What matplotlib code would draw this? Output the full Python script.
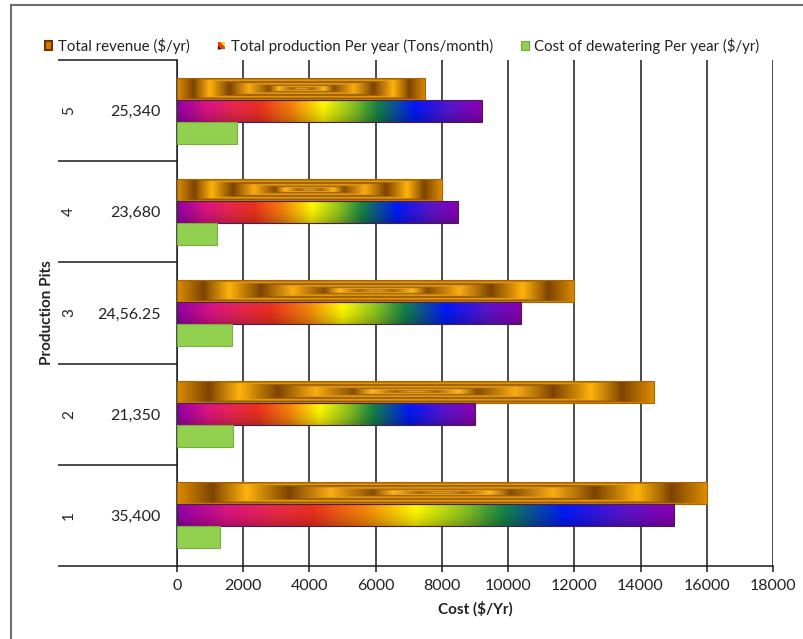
import numpy as np
import matplotlib
matplotlib.use("Agg")
import matplotlib.pyplot as plt
import matplotlib.transforms as mtransforms
from matplotlib.colors import LinearSegmentedColormap
from matplotlib.legend_handler import HandlerBase
from matplotlib.patches import Patch, Polygon, Rectangle
from matplotlib.lines import Line2D

plt.rcParams["font.family"] = ["Lato", "DejaVu Sans"]

# ---- data -------------------------------------------------------------
pits = ["1", "2", "3", "4", "5"]
pit_values = ["35,400", "21,350", "24,56.25", "23,680", "25,340"]
revenue = [16000, 14400, 12000, 8000, 7500]
production = [15000, 9000, 10400, 8500, 9200]
dewatering = [1300, 1700, 1650, 1200, 1800]
series_names = ["Total revenue ($/yr)",
                "Total production Per year (Tons/month)",
                "Cost of dewatering Per year ($/yr)"]
x_ticks = [0, 2000, 4000, 6000, 8000, 10000, 12000, 14000, 16000, 18000]


def rgb(*c):
    return tuple(v / 255 for v in c)


# ---- fills ------------------------------------------------------------
gold_cmap = LinearSegmentedColormap.from_list("gold", [
    (0.00, rgb(255, 195, 50)),
    (0.08, rgb(160, 95, 10)),
    (0.18, rgb(255, 182, 30)),
    (0.26, rgb(135, 78, 5)),
    (0.42, rgb(250, 172, 20)),
    (0.58, rgb(125, 68, 0)),
    (0.74, rgb(255, 178, 12)),
    (0.87, rgb(125, 68, 0)),
    (1.00, rgb(220, 140, 0)),
])
rainbow_cmap = LinearSegmentedColormap.from_list("rainbow_fill", [
    (0.00, rgb(150, 0, 170)),
    (0.10, rgb(220, 20, 130)),
    (0.19, rgb(235, 40, 75)),
    (0.27, rgb(236, 48, 30)),
    (0.38, rgb(246, 135, 10)),
    (0.48, rgb(255, 250, 0)),
    (0.57, rgb(150, 200, 30)),
    (0.66, rgb(20, 130, 70)),
    (0.78, rgb(0, 25, 250)),
    (0.90, rgb(90, 20, 205)),
    (1.00, rgb(140, 0, 180)),
])
green = rgb(146, 208, 80)

nu, nv = 500, 40
U, V = np.meshgrid(np.linspace(0, 1, nu), np.linspace(0, 1, nv))
gold_tex = gold_cmap(np.maximum(np.abs(2 * U - 1), np.abs(2 * V - 1)))
rain_tex = rainbow_cmap(U)
shade = 1.0 - 0.22 * (1.0 - V) ** 2
rain_tex[..., :3] *= shade[..., None]

# ---- figure -----------------------------------------------------------
fig = plt.figure(figsize=(8.04, 6.39), dpi=100)
ax = fig.add_axes([177 / 804, 1 - 566 / 639, 596 / 804, 506 / 639])

y = np.arange(len(pits))
h = 0.218


def textured(bars, tex):
    for bar in bars:
        x0, y0 = bar.get_x(), bar.get_y()
        im = ax.imshow(tex, extent=[x0, x0 + bar.get_width(), y0, y0 + bar.get_height()],
                       origin="lower", aspect="auto", interpolation="bilinear", zorder=2.5)
        im.set_clip_path(bar)


rev_bars = ax.barh(y + h, revenue, height=h, facecolor="none",
                   edgecolor=rgb(170, 100, 0), lw=0.8, zorder=3)
textured(rev_bars, gold_tex)
prod_bars = ax.barh(y, production, height=h, facecolor="none",
                    edgecolor=rgb(70, 30, 80), lw=0.8, zorder=3)
textured(prod_bars, rain_tex)
ax.barh(y - h, dewatering, height=h, color=green,
        edgecolor=rgb(120, 175, 60), lw=0.8, zorder=3)

ax.set_xlim(0, 18000)
ax.set_ylim(-0.5, len(pits) - 0.5)
ax.set_aspect("auto")

# axes styling
ax.set_axisbelow(True)
ax.xaxis.grid(True, color="#1a1a1a", lw=1.1)
for s in ("top", "right"):
    ax.spines[s].set_visible(False)
for s in ("left", "bottom"):
    ax.spines[s].set_color("#1a1a1a")
    ax.spines[s].set_linewidth(1.1)
ax.set_xticks(x_ticks)
ax.tick_params(axis="x", length=4, width=1.1, color="#1a1a1a", pad=5,
               labelsize=11.5, labelcolor="#222222")
ax.set_yticks(y, labels=pit_values)
ax.tick_params(axis="y", length=0, pad=12, labelsize=11.5, labelcolor="#222222")

# multi-level category axis
blend = mtransforms.blended_transform_factory(ax.transAxes, ax.transData)
for yy, p in zip(y, pits):
    ax.text(-0.181, yy, p, transform=blend, rotation=90, ha="center", va="center",
            fontsize=11, color="#222222")
for b in np.arange(len(pits) + 1) - 0.5:
    ax.plot([-0.2, 0], [b, b], transform=blend, color="#1a1a1a", lw=1.1,
            clip_on=False, solid_capstyle="butt")

ax.set_xlabel("Cost ($/Yr)", fontsize=11, fontweight="bold", labelpad=6,
              color="#222222")
ax.set_ylabel("Production Pits", fontsize=11, fontweight="bold", color="#222222")
ax.yaxis.set_label_coords(-0.207, 0.5)


# ---- legend -----------------------------------------------------------
class RainbowKey(HandlerBase):
    def create_artists(self, legend, orig_handle, xdescent, ydescent,
                       width, height, fontsize, trans):
        s = min(width, height)
        x0 = -xdescent + (width - s) / 2
        y0 = -ydescent + (height - s) / 2
        base = Rectangle((x0, y0), s, s, facecolor=rgb(230, 60, 20),
                         edgecolor="none", transform=trans)
        top = Polygon([(x0 + s, y0 + 0.35 * s), (x0 + s, y0 + s),
                       (x0 + 0.35 * s, y0 + s)], closed=True,
                      facecolor=rgb(255, 220, 0), edgecolor="none", transform=trans)
        low = Polygon([(x0, y0), (x0 + 0.5 * s, y0), (x0, y0 + 0.5 * s)], closed=True,
                      facecolor=rgb(40, 20, 10), edgecolor="none", transform=trans)
        return [base, top, low]


gold_key = Patch(facecolor=rgb(215, 120, 0), edgecolor=rgb(110, 55, 0), lw=1.5)
rain_key = Patch(facecolor=rgb(230, 60, 20))
green_key = Patch(facecolor=green, edgecolor=rgb(110, 170, 50), lw=0.8)
fig.legend([gold_key, rain_key, green_key], series_names,
           handler_map={rain_key: RainbowKey()},
           loc="center", bbox_to_anchor=(402 / 804, 1 - 46 / 639), ncol=3,
           frameon=False, fontsize=10.8, handlelength=0.5, handleheight=0.5,
           handletextpad=0.35, columnspacing=1.9, labelcolor="#222222")

# frame around the chart area
fig.add_artist(Line2D([11 / 804, 1], [1 - 5 / 639, 1 - 5 / 639], color="#6e6e6e", lw=1.5))
fig.add_artist(Line2D([11 / 804, 11 / 804], [0, 1 - 5 / 639], color="#6e6e6e", lw=1.5))

fig.savefig("out.png", dpi=100)
